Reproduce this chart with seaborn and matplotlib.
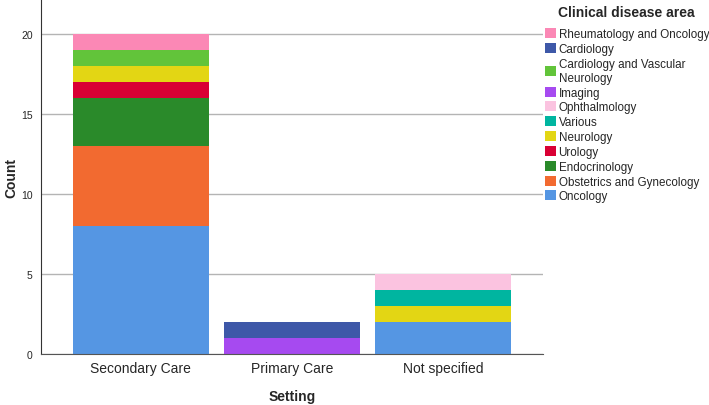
import pandas as pd
import seaborn as sns
import matplotlib.pyplot as plt
from matplotlib.patches import Patch

settings = ['Secondary Care', 'Primary Care', 'Not specified']

# hue order = stacking order from the bottom
areas = ['Oncology', 'Obstetrics and Gynecology', 'Endocrinology', 'Urology',
         'Neurology', 'Various', 'Ophthalmology', 'Imaging',
         'Cardiology and Vascular Neurology', 'Cardiology',
         'Rheumatology and Oncology']
colors = ['#5596e3', '#f26a30', '#2a8a2a', '#d90034', '#e3d614', '#00b5a0',
          '#fbc3e0', '#a64af0', '#62c43a', '#3e58a8', '#fb88b5']

secondary = [8, 5, 3, 1, 1, 0, 0, 0, 1, 0, 1]
primary = [0, 0, 0, 0, 0, 0, 0, 1, 0, 1, 0]
not_specified = [2, 0, 0, 0, 1, 1, 1, 0, 0, 0, 0]

rows = []
for setting, counts in zip(settings, [secondary, primary, not_specified]):
    for area, c in zip(areas, counts):
        rows.append({'Setting': setting, 'Area': area, 'Count': c})
df = pd.DataFrame(rows)
df['Setting'] = pd.Categorical(df['Setting'], categories=settings, ordered=True)

sns.set_style('white')
plt.rcParams['font.family'] = ['Liberation Sans', 'DejaVu Sans']

fig = plt.figure(figsize=(7.09, 4.06), dpi=100)
ax = fig.add_axes([0.058, 0.1256, 0.708, 0.8744])

# stacked bars: draw cumulative totals from the top layer down
pivot = df.pivot_table(index='Setting', columns='Area', values='Count',
                       aggfunc='sum', observed=False)[areas]
cum = pivot.cumsum(axis=1)
for area, col in reversed(list(zip(areas, colors))):
    layer = cum[area].reset_index()
    layer.columns = ['Setting', 'Total']
    sns.barplot(data=layer, x='Setting', y='Total', order=settings,
                color=col, width=0.9, saturation=1, linewidth=0,
                errorbar=None, ax=ax, zorder=2)

ax.set_xlim(-0.66, 2.66)
ax.set_ylim(0, 22.2)
ax.set_yticks([0, 5, 10, 15, 20])
ax.yaxis.grid(True, color='#b4b4b4', linewidth=1, zorder=0)
ax.set_axisbelow(True)
ax.tick_params(axis='y', labelsize=7.5, length=0, pad=6)
ax.tick_params(axis='x', labelsize=10, length=0, pad=5)
ax.set_xlabel('Setting', fontsize=10, fontweight='bold', labelpad=10)
ax.set_ylabel('Count', fontsize=10, fontweight='bold', labelpad=2)
for s in ['top', 'right']:
    ax.spines[s].set_visible(False)
ax.spines['left'].set_color('#333333')
ax.spines['bottom'].set_color('#555555')

labels = [a if a != 'Cardiology and Vascular Neurology'
          else 'Cardiology and Vascular\nNeurology' for a in areas]
handles = [Patch(facecolor=c, edgecolor='none') for c in colors]
fig.text(558 / 709, 1 - 13 / 406, 'Clinical disease area', fontsize=10,
         fontweight='bold', ha='left', va='center')
fig.legend(handles[::-1], labels[::-1],
           loc='upper left', bbox_to_anchor=(0.768, 0.928), frameon=False,
           fontsize=8.4, handlelength=0.95, handleheight=0.95,
           handletextpad=0.25, labelspacing=0.24, borderaxespad=0.0,
           borderpad=0.0)

plt.savefig('out.png', dpi=100)
